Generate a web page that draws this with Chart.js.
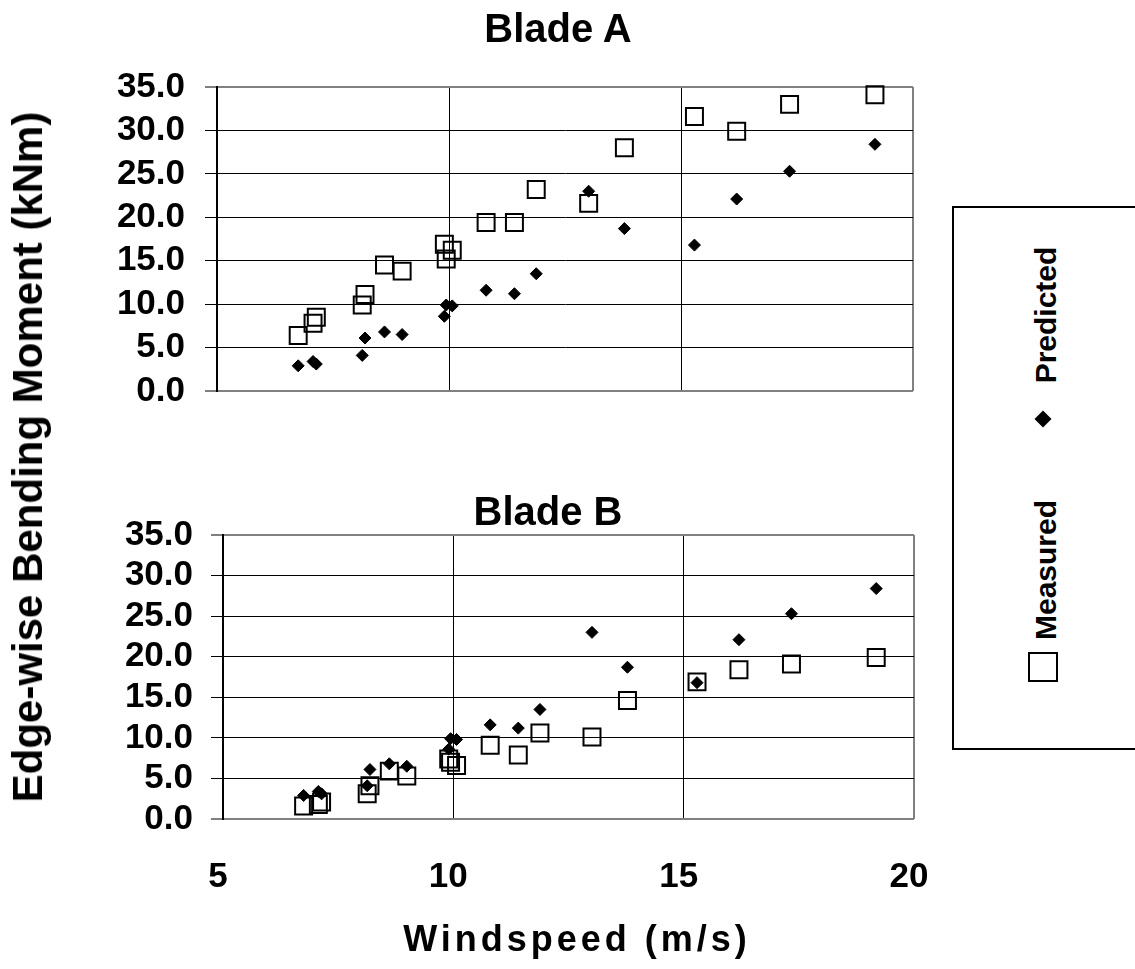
<!DOCTYPE html>
<html>
<head>
<meta charset="utf-8">
<script src="https://cdn.jsdelivr.net/npm/chart.js@4.4.1/dist/chart.umd.min.js"></script>
<style>
  html, body { margin: 0; padding: 0; background: #fff; }
  #wrap { position: relative; width: 1135px; height: 969px; overflow: hidden;
          font-family: "Liberation Sans", Arial, sans-serif; font-weight: bold; color: #000; }
  canvas { position: absolute; left: 0; }
  .lbl { position: absolute; line-height: 1; white-space: nowrap; transform: translate(-50%, -50%); }
  .rot { transform: translate(-50%, -50%) rotate(-90deg); }
  #legend { position: absolute; left: 952px; top: 206px; width: 260px; height: 544px;
            border: 2px solid #000; box-sizing: border-box; }
  .mk-diamond { position: absolute; width: 12px; height: 12px; background: #000; transform: rotate(45deg); }
  .mk-square { position: absolute; width: 30px; height: 30px; border: 2px solid #000; box-sizing: border-box; }
</style>
</head>
<body>
<div id="wrap">
  <canvas id="blade-a" width="940" height="430" style="top:0"></canvas>
  <canvas id="blade-b" width="940" height="539" style="top:430px"></canvas>

  <div class="lbl" style="left:558px; top:28px; font-size:40px">Blade A</div>
  <div class="lbl" style="left:548px; top:511px; font-size:40px">Blade B</div>
  <div class="lbl rot" style="left:28px; top:457px; font-size:42px">Edge-wise Bending Moment (kNm)</div>
  <div class="lbl" style="left:577px; top:939px; font-size:36px; letter-spacing:4px">Windspeed (m/s)</div>

  <div id="legend"></div>
  <div class="lbl rot" style="left:1046px; top:315px; font-size:30px">Predicted</div>
  <div class="mk-diamond" style="left:1037px; top:413px"></div>
  <div class="lbl rot" style="left:1046px; top:570px; font-size:30px">Measured</div>
  <div class="mk-square" style="left:1028px; top:652px"></div>
</div>

<script>
// windspeed bins (m/s), shared by both blades
const WINDSPEED = [6.75, 7.07, 7.14, 8.13, 8.19, 8.61, 8.99, 9.90, 9.94, 10.07,
                   10.80, 11.41, 11.88, 13.01, 13.78, 15.29, 16.20, 17.34, 19.18];
// predicted moment (kNm) - same model for both blades
const PREDICTED = [2.9, 3.4, 3.1, 4.1, 6.1, 6.8, 6.5, 8.6, 9.9, 9.8,
                   11.6, 11.2, 13.5, 23.0, 18.7, 16.8, 22.1, 25.3, 28.4];
const MEASURED_A = [6.4, 7.8, 8.5, 9.9, 11.1, 14.5, 13.8, 16.9, 15.2, 16.2,
                    19.4, 19.4, 23.2, 21.6, 28.0, 31.6, 29.9, 33.0, 34.1];
const MEASURED_B = [1.6, 1.8, 2.1, 3.1, 4.1, 5.9, 5.3, 7.4, 7.0, 6.6,
                    9.1, 7.9, 10.6, 10.1, 14.6, 16.9, 18.4, 19.1, 19.9];
const X_TICKS = [5, 10, 15, 20];
const Y_MAX = 35;

const FONT = '"Liberation Sans", Arial, sans-serif';
const toPoints = (ys) => WINDSPEED.map((x, i) => ({ x, y: ys[i] }));

function makeChart(id, measured, o) {
  const ctx = document.getElementById(id).getContext('2d');
  return new Chart(ctx, {
    type: 'scatter',
    data: {
      datasets: [
        { label: 'Predicted', data: toPoints(PREDICTED), pointStyle: 'rectRot', pointRadius: 6,
          backgroundColor: '#000', borderColor: '#000', borderWidth: 1, clip: false },
        { label: 'Measured', data: toPoints(measured), pointStyle: 'rect', pointRadius: 12,
          backgroundColor: 'rgba(0,0,0,0)', borderColor: '#000', borderWidth: 2, clip: false }
      ]
    },
    options: {
      responsive: false,
      animation: false,
      events: [],
      layout: { padding: { top: o.top, right: o.right, bottom: o.bottom, left: 0 } },
      plugins: { legend: { display: false }, tooltip: { enabled: false } },
      scales: {
        x: {
          type: 'linear', min: X_TICKS[0], max: X_TICKS[X_TICKS.length - 1],
          afterFit: (s) => { s.height = o.xHeight; },
          afterBuildTicks: (s) => { s.ticks = X_TICKS.map(v => ({ value: v })); },
          border: { display: false },
          grid: {
            drawTicks: false,
            color: (c) => c.tick.value === 20 ? '#808080' : '#000',
            lineWidth: (c) => c.tick.value === 5 ? 0 : (c.tick.value === 20 ? 2 : 1)
          },
          // tick padding would widen the right inset, so the label drop comes from lineHeight
          ticks: {
            display: o.xLabels, padding: 0, labelOffset: -5, color: '#000',
            font: { family: FONT, size: 35, weight: 'bold', lineHeight: o.xLine }
          }
        },
        y: {
          min: 0, max: Y_MAX,
          afterFit: (s) => { s.width = o.yWidth; },
          border: { display: true, color: '#000', width: 2 },
          grid: {
            tickLength: 12, tickColor: '#000', tickWidth: 1,
            color: (c) => (c.tick.value === 0 || c.tick.value === Y_MAX) ? '#808080' : '#000',
            lineWidth: (c) => (c.tick.value === 0 || c.tick.value === Y_MAX) ? 2 : 1
          },
          ticks: {
            stepSize: 5, autoSkip: false, padding: o.yPad, color: '#000',
            callback: (v) => v.toFixed(1),
            font: { family: FONT, size: 35, weight: 'bold', lineHeight: 1 }
          }
        }
      }
    }
  });
}

makeChart('blade-a', MEASURED_A, { top: 87, right: 27, bottom: 39, xHeight: 0, xLabels: false, xLine: 1, yWidth: 217, yPad: 20 });
makeChart('blade-b', MEASURED_B, { top: 105, right: 26, bottom: 50, xHeight: 100, xLabels: true, xLine: '116px', yWidth: 223, yPad: 18 });
</script>
</body>
</html>
